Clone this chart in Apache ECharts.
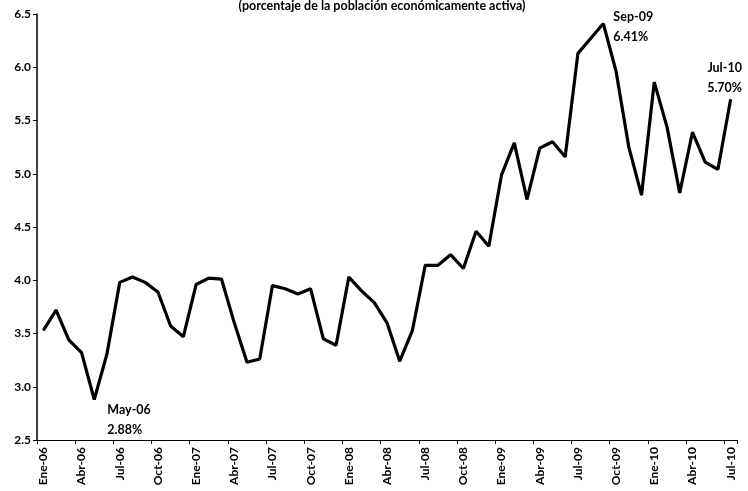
<!DOCTYPE html>
<html>
<head>
<meta charset="utf-8">
<script src="https://cdn.jsdelivr.net/npm/echarts@6/dist/echarts.min.js"></script>
<style>html,body{margin:0;padding:0;background:#fff;}#c{width:748px;height:491px;}</style>
</head>
<body>
<div id="c"></div>
<script>
const monthNames = ['Ene','Feb','Mar','Abr','May','Jun','Jul','Ago','Sep','Oct','Nov','Dic'];
const years = ['06','07','08','09','10'];
const categories = [];
years.forEach(y => monthNames.forEach(m => categories.push(m + '-' + y)));
categories.length = 55; // Ene-06 .. Jul-10

const values = [
  3.53, 3.72, 3.44, 3.32, 2.88, 3.31, 3.98, 4.03, 3.98, 3.89, 3.57, 3.47,
  3.96, 4.02, 4.01, 3.60, 3.23, 3.26, 3.95, 3.92, 3.87, 3.92, 3.45, 3.39,
  4.03, 3.90, 3.79, 3.60, 3.24, 3.53, 4.14, 4.14, 4.24, 4.11, 4.46, 4.32,
  4.99, 5.29, 4.76, 5.24, 5.30, 5.16, 6.13, 6.27, 6.41, 5.96, 5.25, 4.80,
  5.86, 5.44, 4.82, 5.39, 5.11, 5.04, 5.70
];

const yTicks = { min: 2.5, max: 6.5, interval: 0.5 };
const titleText = '(porcentaje de la población económicamente activa)';
const annotated = ['May-06', 'Sep-09', 'Jul-10'];

const FONT = 'Lato';
const labelStyles = {
  'May-06': { align: 'left', verticalAlign: 'top', offset: [13, 0] },
  'Sep-09': { align: 'left', verticalAlign: 'middle', offset: [10, 3] },
  'Jul-10': { align: 'center', verticalAlign: 'bottom', offset: [-6, -1] }
};

const seriesData = values.map((v, i) => {
  const cat = categories[i];
  if (annotated.indexOf(cat) >= 0) {
    const s = labelStyles[cat];
    return {
      value: v,
      label: {
        show: true,
        position: 'inside',
        formatter: cat + '\n' + v.toFixed(2) + '%',
        align: s.align,
        verticalAlign: s.verticalAlign,
        offset: s.offset,
        fontFamily: FONT,
        fontWeight: 'bold',
        fontSize: 12.5,
        lineHeight: 20,
        color: '#000'
      }
    };
  }
  return v;
});

const chart = echarts.init(document.getElementById('c'), null, { renderer: 'canvas' });
chart.setOption({
  animation: false,
  backgroundColor: '#fff',
  title: {
    text: titleText,
    left: 377,
    top: -6,
    textAlign: 'center',
    textStyle: { fontFamily: FONT, fontWeight: 'bold', fontSize: 12.5, color: '#000' }
  },
  grid: { left: 37, right: 11, top: 14, bottom: 51, containLabel: false },
  xAxis: {
    type: 'category',
    data: categories,
    boundaryGap: true,
    axisLine: { show: true, lineStyle: { color: '#000', width: 1 } },
    axisTick: { show: true, interval: 2, length: 4, lineStyle: { color: '#000' } },
    axisLabel: {
      interval: 2,
      rotate: 90,
      margin: 7,
      fontFamily: FONT,
      fontWeight: 'bold',
      fontSize: 12,
      color: '#000'
    },
    splitLine: { show: false }
  },
  yAxis: {
    type: 'value',
    min: yTicks.min,
    max: yTicks.max,
    interval: yTicks.interval,
    axisLine: { show: true, lineStyle: { color: '#000', width: 1.5 } },
    axisTick: { show: true, length: 4, lineStyle: { color: '#000' } },
    axisLabel: {
      formatter: v => v.toFixed(1),
      margin: 6,
      fontFamily: FONT,
      fontWeight: 'bold',
      fontSize: 12,
      color: '#000'
    },
    splitLine: { show: false }
  },
  series: [{
    type: 'line',
    data: seriesData,
    symbol: 'circle',
    symbolSize: 1,
    showSymbol: true,
    showAllSymbol: true,
    itemStyle: { color: '#000' },
    lineStyle: { color: '#000', width: 3.2 },
    emphasis: { disabled: true }
  }]
});
</script>
</body>
</html>
